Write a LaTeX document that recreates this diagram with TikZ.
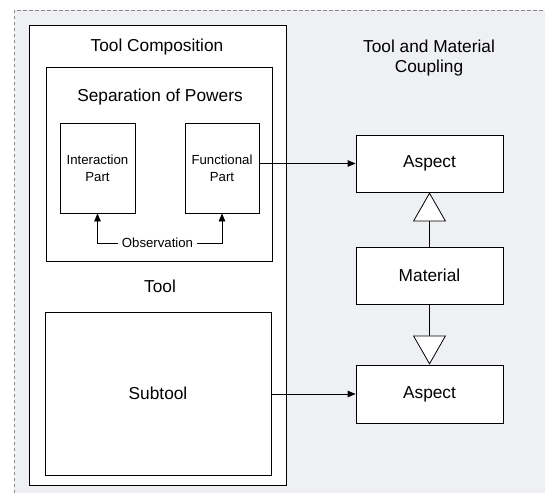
\documentclass[tikz,border=0pt]{standalone}
\usepackage{fontspec}
\setmainfont{Liberation Sans}
\usetikzlibrary{arrows.meta}
\definecolor{panelgray}{RGB}{239,240,244}
\definecolor{dashgray}{RGB}{136,136,136}

\begin{document}
\begin{tikzpicture}[x=1pt,y=-1pt,
	box/.style={draw=black, fill=white, line width=0.8pt, inner sep=0pt},
	bigtext/.style={font=\fontsize{17.3}{20.5}\selectfont, align=center},
	smalltext/.style={font=\fontsize{13.2}{17}\selectfont, align=center},
	uses/.style={-{Triangle[length=8pt,width=6.5pt]}, line width=0.8pt},
	inherits/.style={-{Triangle[length=29pt,width=33pt,fill=white]}, line width=0.8pt}]

	  \useasboundingbox (0,0) rectangle (545,493);

	  %----------------------------------------------------------------
	  \fill [panelgray] (14,10) rectangle (545,493);
	  \draw [dashgray, line width=1pt, dash pattern=on 3.5pt off 2.5pt] (14,493) -- (14,10) -- (545,10);

	  %----------------------------------------------------------------
	  \node [box, minimum width=257, minimum height=460] (toolbox) at (157.5,255) {};
	  \node [bigtext] (toolcomp) at (157,47) {Tool Composition};

	  \node [box, minimum width=226, minimum height=194] (sepbox) at (159,164) {};
	  \node [bigtext] (septitle) at (160,97) {Separation of Powers};

	  \node [box, smalltext, minimum width=75, minimum height=90] (interbox) at (97.5,168) {Interaction\\Part};
	  \node [box, smalltext, minimum width=74, minimum height=90] (funcbox) at (222,168) {Functional\\Part};

	  \node [smalltext, inner sep=4pt] (obs) at (157.5,243) {Observation};
	  \draw [uses] (obs.west) -| (interbox.south);
	  \draw [uses] (obs.east) -| (funcbox.south);

	  \node [bigtext] (tooltitle) at (160,286) {Tool};
	  \node [box, bigtext, minimum width=226, minimum height=163] (subbox) at (158,393.5) {Subtool};

	  %----------------------------------------------------------------
	  \node [bigtext] (coupling) at (429,58) {Tool and Material\\Coupling};

	  \node [box, bigtext, minimum width=147, minimum height=57] (aspecttop) at (429.5,163.5) {Aspect};
	  \node [box, bigtext, minimum width=147, minimum height=57] (material) at (429.5,275.5) {Material};
	  \node [box, bigtext, minimum width=147, minimum height=58] (aspectbot) at (429.5,394) {Aspect};

	  \draw [inherits] (material.north) -- (aspecttop.south);
	  \draw [inherits] (material.south) -- (aspectbot.north);

	  \draw [uses] (funcbox.east |- aspecttop.west) -- (aspecttop.west);
	  \draw [uses] (subbox.east |- aspectbot.west) -- (aspectbot.west);

\end{tikzpicture}
\end{document}
